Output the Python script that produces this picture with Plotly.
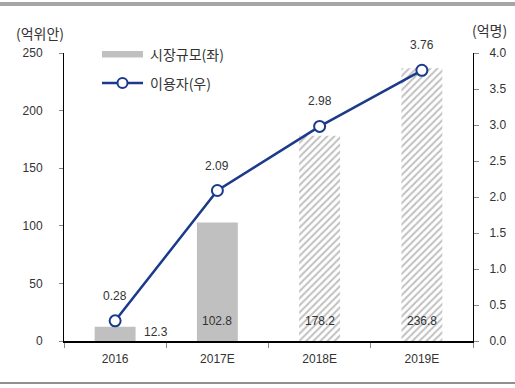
import plotly.graph_objects as go

categories = ["2016", "2017E", "2018E", "2019E"]
market_size = [12.3, 102.8, 178.2, 236.8]
users = [0.28, 2.09, 2.98, 3.76]
bar_labels = ["12.3", "102.8", "178.2", "236.8"]
user_labels = ["0.28", "2.09", "2.98", "3.76"]
hatched = [False, False, True, True]
left_ticks = [0, 50, 100, 150, 200, 250]
right_ticks = [0.0, 0.5, 1.0, 1.5, 2.0, 2.5, 3.0, 3.5, 4.0]

FONT = "Liberation Sans, Arial, Noto Sans CJK KR"
KFONT = "Noto Sans CJK KR, Liberation Sans"
TXT = "#333333"
GRAY = "#c0c0c0"
BLUE = "#1b3a8c"

xi = list(range(len(categories)))
solid_x = [i for i in xi if not hatched[i]]
hatch_x = [i for i in xi if hatched[i]]

fig = go.Figure()
fig.add_trace(go.Bar(
    x=solid_x, y=[market_size[i] for i in solid_x], width=0.4,
    marker=dict(color=GRAY, line=dict(width=0)),
    showlegend=False, hoverinfo="skip"))
fig.add_trace(go.Bar(
    x=hatch_x, y=[market_size[i] for i in hatch_x], width=0.4,
    marker=dict(color="white", line=dict(width=0),
                pattern=dict(shape="/", fgcolor=GRAY, bgcolor="white",
                             size=5, solidity=0.4, fillmode="replace")),
    showlegend=False, hoverinfo="skip"))
fig.add_trace(go.Scatter(
    x=xi, y=users, yaxis="y2", mode="lines+markers",
    line=dict(color=BLUE, width=2.5),
    marker=dict(size=11, color="white", line=dict(color=BLUE, width=2)),
    showlegend=False, hoverinfo="skip"))

ann = []
for i, v in enumerate(market_size):
    if i == 0:
        ann.append(dict(x=i, y=0, xref="x", yref="y", text=bar_labels[i], showarrow=False,
                        xshift=41, yshift=9, font=dict(size=12, color=TXT, family=FONT)))
    else:
        ann.append(dict(x=i, y=0, xref="x", yref="y", text=bar_labels[i], showarrow=False,
                        yshift=20, font=dict(size=12, color=TXT, family=FONT)))
for i, v in enumerate(users):
    ann.append(dict(x=i, y=v, xref="x", yref="y2", text=user_labels[i], showarrow=False,
                    yshift=25, font=dict(size=12, color=TXT, family=FONT)))

def px(x):
    return (x - 64) / 409
def py(y):
    return (341 - y) / 288

ann += [
    dict(x=px(40), y=py(33), xref="paper", yref="paper", text="(억위안)", showarrow=False,
         xanchor="center", yanchor="middle", font=dict(size=14, color=TXT, family=KFONT)),
    dict(x=px(489), y=py(30), xref="paper", yref="paper", text="(억명)", showarrow=False,
         xanchor="center", yanchor="middle", font=dict(size=14, color=TXT, family=KFONT)),
    dict(x=px(148), y=py(54), xref="paper", yref="paper", text="시장규모(좌)", showarrow=False,
         xanchor="left", yanchor="middle", font=dict(size=14, color=TXT, family=KFONT)),
    dict(x=px(148), y=py(83), xref="paper", yref="paper", text="이용자(우)", showarrow=False,
         xanchor="left", yanchor="middle", font=dict(size=14, color=TXT, family=KFONT)),
]

shapes = [
    dict(type="line", xref="paper", yref="paper", x0=px(0), x1=px(515), y0=py(4), y1=py(4),
         line=dict(color="#a6a6a6", width=4)),
    dict(type="line", xref="paper", yref="paper", x0=px(0), x1=px(515), y0=py(383), y1=py(383),
         line=dict(color="#222222", width=1)),
    dict(type="rect", xref="paper", yref="paper", x0=px(102), x1=px(143), y0=py(51), y1=py(57.5),
         fillcolor=GRAY, line=dict(width=0)),
    dict(type="line", xref="paper", yref="paper", x0=px(102), x1=px(143), y0=py(83), y1=py(83),
         line=dict(color=BLUE, width=2.5)),
    dict(type="circle", xref="paper", yref="paper", x0=px(117.5), x1=px(127.5), y0=py(78), y1=py(88),
         fillcolor="white", line=dict(color=BLUE, width=2)),
]

fig.update_layout(
    width=515, height=388,
    margin=dict(l=64, r=42, t=53, b=47),
    paper_bgcolor="white", plot_bgcolor="white",
    font=dict(family=FONT, size=12, color=TXT),
    barmode="overlay",
    xaxis=dict(range=[-0.5, 3.5], tickvals=xi, ticktext=categories, ticks="",
               showline=True, linecolor="black", linewidth=1.5, automargin=False,
               ticklabelstandoff=6,
               minor=dict(tickvals=[-0.5, 0.5, 1.5, 2.5, 3.5], ticks="outside", ticklen=5,
                          tickcolor="#888888", showgrid=False),
               showgrid=False, zeroline=False, tickfont=dict(size=12, color=TXT)),
    yaxis=dict(range=[0, 250], tickvals=left_ticks, showline=True, linecolor="black",
               linewidth=1, ticks="outside", ticklen=4, tickcolor="#888888", showgrid=False,
               zeroline=False, ticklabelstandoff=14, automargin=False,
               tickfont=dict(size=12, color=TXT)),
    yaxis2=dict(range=[0, 4], tickvals=right_ticks, tickformat=".1f", overlaying="y",
                side="right", showline=True, linecolor="black", linewidth=1,
                ticks="outside", ticklen=5, tickcolor="#888888", showgrid=False,
                zeroline=False, ticklabelstandoff=8, automargin=False,
                tickfont=dict(size=12, color=TXT)),
    annotations=ann, shapes=shapes,
)

fig.write_html("out.html", config={"displayModeBar": False},
               post_script="document.body.style.margin='0';")
